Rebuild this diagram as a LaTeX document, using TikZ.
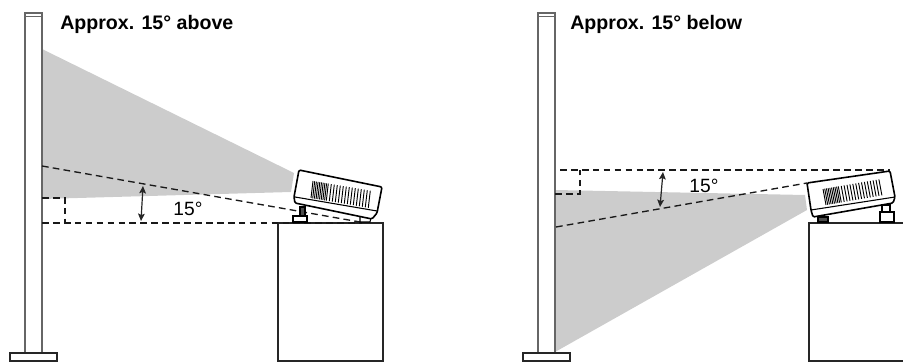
\documentclass[tikz,border=0pt]{standalone}
\usepackage{fontspec}
\setmainfont{Liberation Sans}
\usepackage{xcolor}
\usetikzlibrary{arrows.meta}
\definecolor{beamgray}{HTML}{CCCCCC}
\definecolor{screengray}{HTML}{666666}
\begin{document}
\begin{tikzpicture}[
  x=0.75pt, y=-0.75pt,
  screenline/.style={draw=screengray, line width=1.2pt},
  outline/.style={draw=black!85, line width=0.9pt},
  beam/.style={fill=beamgray, draw=none},
  guide/.style={draw=black!90, line width=1pt, dash pattern=on 5pt off 3.2pt},
  body/.style={draw=black, line width=1.2pt, line join=round, rounded corners=1pt, fill=white},
  thin body/.style={draw=black, line width=0.8pt},
  vent/.style={draw=black, line width=0.7pt},
  angle arrow/.style={{Stealth[length=5.5pt,width=5pt,inset=1pt]}-{Stealth[length=5.5pt,width=5pt,inset=1pt]}, draw=black!85, line width=0.9pt},
  title/.style={font=\bfseries\fontsize{14.7}{17}\selectfont, anchor=west, inner sep=0pt},
  angle label/.style={font=\fontsize{14.4}{17}\selectfont, inner sep=0pt},
]
\useasboundingbox (0,0) rectangle (903,363);

% Left panel: beam
\path[beam] (42,49) -- (294,173) -- (291,192) -- (42,199) -- cycle;

% Left panel: screen
\draw[screengray, line width=0.6pt] (25,16) -- (42,16);
\draw[screenline] (25,353) -- (25,13) -- (42,13) -- (42,353);
\draw[outline] (10,353) rectangle (57,361);

% Left panel: table
\draw[outline] (278,361) -- (278,223) -- (383,223) -- (383,361) -- cycle;

% Left panel: guides
\draw[guide] (42,166) -- (360,222);
\draw[guide] (42,223) -- (362,223);
\draw[guide] (42,198) -- (65,198) -- (65,223);
\draw[angle arrow] (143,186) -- (141,221);
\node[angle label] (angleL) at (188,209) {15°};
\node[title] (titleL) at (60,24) {Approx. 15° above};

% Left panel: projector
\draw[thin body, fill=white] (293,216) rectangle (307,222);
\draw[thin body, fill=black!70] (300,207) rectangle (305,216);
\draw[thin body, fill=white] (360,216) -- (371,218) -- (370,222) -- (360,222) -- cycle;
\draw[body] (299,170) -- (382,187) -- (377,213) -- (372,219) -- (295,203) -- (294,197) -- cycle;
\draw[thin body] (295,197) -- (377,211);
\foreach \i in {0,...,9} {
  \draw[vent] ({313+1.7*\i},{181+0.29*\i}) -- ({311+1.7*\i},{198+0.29*\i});
}
\foreach \i in {1,...,14} {
  \draw[vent] ({328.3+3*\i},{183.6+0.51*\i}) -- ({326.3+3*\i},{200.6+0.51*\i});
}

% Right panel: beam
\path[beam] (555,190) -- (805,195) -- (807,210) -- (555,352) -- cycle;

% Right panel: screen
\draw[screengray, line width=0.6pt] (538,16) -- (555,16);
\draw[screenline] (538,353) -- (538,13) -- (555,13) -- (555,353);
\draw[outline] (523,353) rectangle (570,361);

% Right panel: table
\draw[outline] (903,223) -- (809,223) -- (809,361) -- (903,361);

% Right panel: guides
\draw[guide] (556,227) -- (807,183);
\draw[guide] (560,170) -- (890,170);
\draw[guide] (555,194) -- (580,194) -- (580,170);
\draw[angle arrow] (663,172) -- (660,207);
\node[angle label] (angleR) at (704,186) {15°};
\node[title] (titleR) at (570,24) {Approx. 15° below};

% Right panel: projector
\draw[thin body, fill=white] (880,212) rectangle (894,222);
\draw[thin body, fill=white] (882,205) rectangle (890,212);
\draw[thin body, fill=black!70] (818,217) rectangle (828,222);
\draw[body] (807,183) -- (890,171) -- (895,197) -- (893,203) -- (813,217) -- (811,210) -- cycle;
\draw[thin body] (811,210) -- (895,197);
\foreach \i in {0,...,9} {
  \draw[vent] ({823+1.7*\i},{189-0.29*\i}) -- ({826+1.7*\i},{205-0.29*\i});
}
\foreach \i in {1,...,14} {
  \draw[vent] ({838.3+2.9*\i},{186.4-0.5*\i}) -- ({841.3+2.9*\i},{202.4-0.5*\i});
}

\end{tikzpicture}
\end{document}
